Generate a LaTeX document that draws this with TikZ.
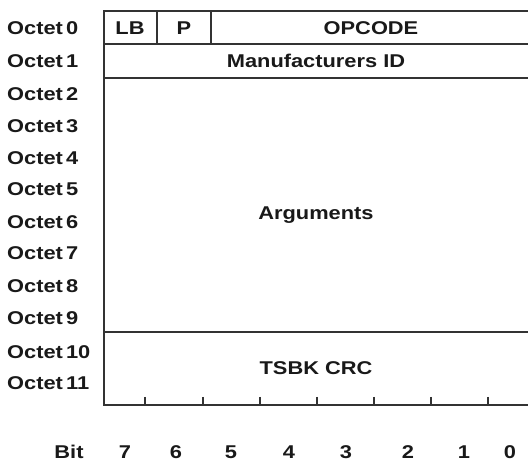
\documentclass[tikz,border=0pt]{standalone}
\usepackage{fontspec}
\setmainfont{Liberation Sans}
\newfontfamily\widefont[FakeStretch=1.18]{Liberation Sans}
\begin{document}
\begin{tikzpicture}[x=1pt,y=-1pt,
  rule/.style={draw=black!80,line width=1.6pt},
  lbl/.style={inner sep=0pt,anchor=base,font=\widefont\bfseries\fontsize{18.5}{21}\selectfont,text=black!90},
  oct/.style={lbl,anchor=base west}]
\useasboundingbox[fill=white] (0,0) rectangle (528,462);
% frame
\draw[rule] (528,11) -- (104,11) -- (104,405) -- (528,405);
\draw[rule] (104,44) -- (528,44);
\draw[rule] (104,78) -- (528,78);
\draw[rule] (104,332) -- (528,332);
\draw[rule] (157,11) -- (157,44);
\draw[rule] (211,11) -- (211,44);
\foreach \x in {145,203,260,317,374,431,488}
  \draw[rule,line width=1.8pt] (\x,397) -- (\x,405);
% field labels
\node[lbl] (lb) at (130,35) {LB};
\node[lbl] (p) at (184,35) {P};
\node[lbl] (opcode) at (371,35) {OPCODE};
\node[lbl] (mfid) at (316,68) {Manufacturers ID};
\node[lbl] (args) at (316,220) {Arguments};
\node[lbl] (crc) at (316,375) {TSBK CRC};
% octet labels
\foreach \n/\y in {0/28,1/61,2/94,3/126,4/158,5/189,6/222,7/253,8/286,9/318,10/352,11/383}
  \node[oct] (o\n) at (7,\y+7) {Octet\,\n};
% bit labels
\node[lbl] (bit) at (69,459) {Bit};
\foreach \b/\x in {7/125,6/176,5/231,4/289,3/346,2/408,1/464,0/510}
  \node[lbl] (b\b) at (\x,459) {\b};
\end{tikzpicture}
\end{document}
